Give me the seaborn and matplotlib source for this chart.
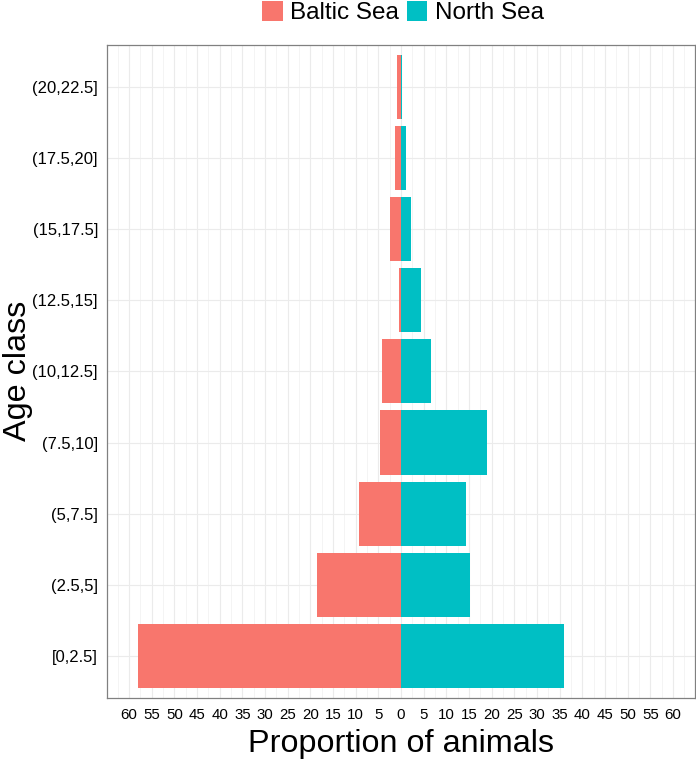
import numpy as np
import pandas as pd
import matplotlib
matplotlib.use("Agg")
import matplotlib.pyplot as plt
import seaborn as sns
from matplotlib.patches import Patch

# ---- data ----
age_classes = ["[0,2.5]", "(2.5,5]", "(5,7.5]", "(7.5,10]", "(10,12.5]",
               "(12.5,15]", "(15,17.5]", "(17.5,20]", "(20,22.5]"]
baltic_sea = [58.1, 18.6, 9.3, 4.7, 4.2, 0.5, 2.4, 1.4, 0.9]
north_sea = [36.0, 15.3, 14.4, 18.9, 6.7, 4.5, 2.1, 1.2, 0.3]
seas = ["Baltic Sea", "North Sea"]
colors = ["#F8766D", "#00BFC4"]
x_ticks = list(range(-60, 61, 5))
x_tick_labels = [str(abs(t)) for t in x_ticks]

sns.set_style("white")
plt.rcParams["font.family"] = ["Liberation Sans", "DejaVu Sans"]
plt.rcParams["text.color"] = "black"
plt.rcParams["axes.labelcolor"] = "black"

df = pd.DataFrame({
    "age": age_classes * 2,
    "value": [-v for v in baltic_sea] + north_sea,
    "sea": [seas[0]] * len(baltic_sea) + [seas[1]] * len(north_sea),
})
order = age_classes[::-1]

W, H = 696, 760
fig = plt.figure(figsize=(W / 100, H / 100), dpi=100)
L, R, T, B = 107.3, 694.7, 44.7, 698.0
ax = fig.add_axes([L / W, 1 - B / H, (R - L) / W, (B - T) / H])

sns.barplot(data=df, x="value", y="age", hue="sea", order=order,
            hue_order=seas, palette=colors, dodge=False, width=0.9,
            orient="h", ax=ax, saturation=1, linewidth=0, legend=True)
if ax.legend_ is not None:
    ax.legend_.remove()

ax.set_xlim(-64.8, 64.8)
ax.set_ylim(len(order) - 1 + 0.59, -0.59)

ax.set_xticks(x_ticks)
ax.set_xticklabels(x_tick_labels, fontsize=10.8, color="black")
ax.set_xticks(np.arange(-62.5, 63, 5), minor=True)
for lbl in ax.get_yticklabels():
    lbl.set_fontsize(12)
    lbl.set_color("black")

ax.set_axisbelow(True)
ax.grid(which="major", axis="both", color="#EBEBEB", linewidth=0.8)
ax.grid(which="minor", axis="x", color="#F3F3F3", linewidth=0.6)

for s in ax.spines.values():
    s.set_visible(True)
    s.set_color("#808080")
    s.set_linewidth(0.9)

ax.tick_params(axis="both", which="major", length=4.3, width=0.8,
               color="#333333", direction="out", pad=3)
ax.tick_params(axis="y", which="major", pad=2.4)
ax.tick_params(axis="x", which="minor", length=0)

ax.set_xlabel("Proportion of animals", fontsize=23.3, color="black")
ax.set_ylabel("Age class", fontsize=23.3, color="black")
ax.xaxis.set_label_coords(0.5, -0.047)
ax.yaxis.set_label_coords(-0.127, 0.5)

handles = [Patch(facecolor=c, edgecolor="none") for c in colors]
fig.legend(handles, seas, loc="upper center", bbox_to_anchor=(403 / W, 1.0),
           ncol=2, frameon=False, fontsize=17.5, handlelength=0.85,
           handleheight=0.85, handletextpad=0.3, columnspacing=0.3,
           borderaxespad=0, borderpad=0.05, labelcolor="black")

fig.savefig("out.png", dpi=100)
